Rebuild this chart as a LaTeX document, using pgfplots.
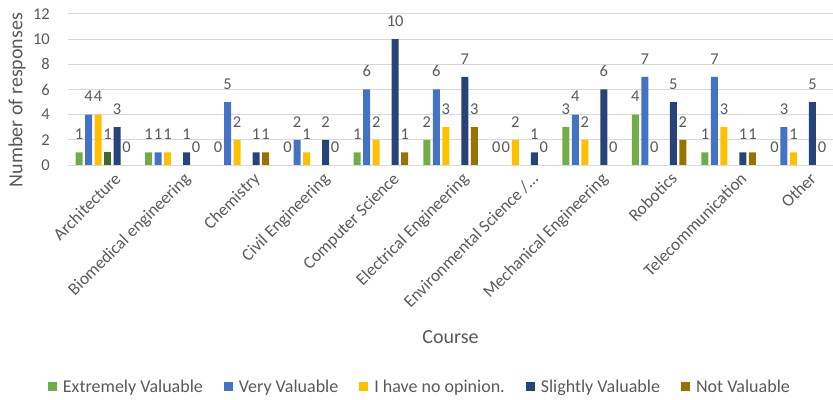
\documentclass[border=0pt]{standalone}
\usepackage{fontspec}
\setmainfont{Carlito}
\usepackage{pgfplots}
\pgfplotsset{compat=1.18}
\definecolor{cgreen}{HTML}{70AD47}
\definecolor{cblue}{HTML}{4472C4}
\definecolor{cyellow}{HTML}{FFC000}
\definecolor{cdgreen}{HTML}{43682B}
\definecolor{cnavy}{HTML}{264478}
\definecolor{cbrown}{HTML}{997300}
\definecolor{textgray}{HTML}{595959}
\definecolor{gridgray}{HTML}{D9D9D9}
\begin{document}
\begin{tikzpicture}
\useasboundingbox (0,0) rectangle (833bp,400bp);
\begin{axis}[
  at={(68bp,235bp)}, anchor=south west,
  scale only axis, width=765bp, height=151bp,
  xmin=-0.5, xmax=10.5, ymin=0, ymax=12,
  ytick={0,2,...,12},
  xtick={0,...,10},
  xticklabels={Architecture, Biomedical engineering, Chemistry, Civil Engineering, Computer Science, Electrical Engineering, Environmental Science /…, Mechanical Engineering, Robotics, Telecommunication, Other},
  ymajorgrids, grid style={draw=gridgray, line width=1bp},
  axis line style={draw=none},
  major tick length=0pt,
  /pgf/number format/assume math mode=true,
  yticklabel style={font=\fontsize{16.5bp}{19bp}\selectfont, text=textgray, inner sep=0pt, xshift=-18bp},
  xticklabel style={font=\fontsize{17.3bp}{20bp}\selectfont, text=textgray, rotate=45, anchor=base east, inner sep=0pt, xshift=3bp, yshift=-24bp},
  ylabel={Number of responses}, xlabel={Course},
  label style={font=\fontsize{20bp}{24bp}\selectfont, text=textgray},
  ylabel style={at={(axis description cs:-0.0667,0.43)}, anchor=center},
  xlabel style={at={(axis description cs:0.5,-1.139)}, anchor=center},
  ybar, bar width=7bp,
  nodes near coords,
  nodes near coords style={font=\fontsize{16.5bp}{19bp}\selectfont, text=textgray, anchor=south, inner sep=0pt, yshift=12.5bp},
  every axis plot post/.append style={draw=none, legend image code/.code={\fill[##1] (0bp,-4.5bp) rectangle (9bp,4.5bp);}},
  legend style={at={(axis description cs:0.460,-1.47)}, anchor=center, legend columns=-1, draw=none, fill=none,
    font=\fontsize{18bp}{21bp}\selectfont, text=textgray,
    /tikz/every odd column/.append style={column sep=4bp},
    /tikz/every even column/.append style={column sep=19bp}},
]
\addplot[fill=cgreen, bar shift=-23.75bp] coordinates {(0,1) (1,1) (2,0) (3,0) (4,1) (5,2) (6,0) (7,3) (8,4) (9,1) (10,0)};
\addlegendentry{Extremely Valuable}
\addplot[fill=cblue, bar shift=-14.25bp] coordinates {(0,4) (1,1) (2,5) (3,2) (4,6) (5,6) (6,0) (7,4) (8,7) (9,7) (10,3)};
\addlegendentry{Very Valuable}
\addplot[fill=cyellow, bar shift=-4.75bp] coordinates {(0,4) (1,1) (2,2) (3,1) (4,2) (5,3) (6,2) (7,2) (8,0) (9,3) (10,1)};
\addlegendentry{I have no opinion.}
\addplot[fill=cdgreen, bar shift=4.75bp, forget plot] coordinates {(0,1)};
\addplot[fill=cnavy, bar shift=14.25bp] coordinates {(0,3) (1,1) (2,1) (3,2) (4,10) (5,7) (6,1) (7,6) (8,5) (9,1) (10,5)};
\addlegendentry{Slightly Valuable}
\addplot[fill=cbrown, bar shift=23.75bp] coordinates {(0,0) (1,0) (2,1) (3,0) (4,1) (5,3) (6,0) (7,0) (8,2) (9,1) (10,0)};
\addlegendentry{Not Valuable}
\end{axis}
\end{tikzpicture}
\end{document}
